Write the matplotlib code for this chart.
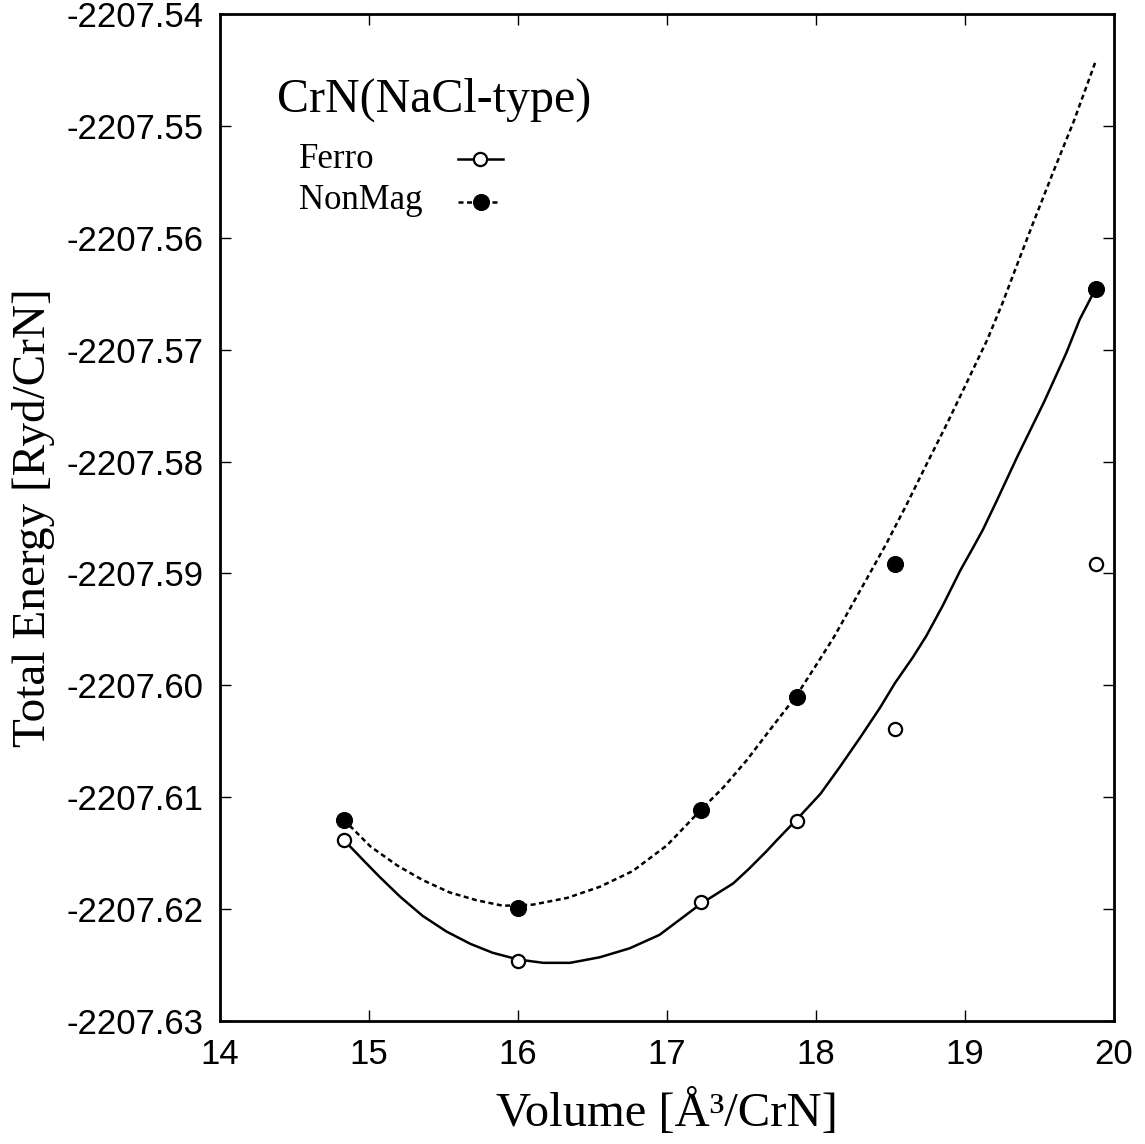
import matplotlib.pyplot as plt
from matplotlib.ticker import FormatStrFormatter

# computed total energies
volume = [14.83, 16.0, 17.23, 17.87, 18.53, 19.88]
e_ferro = [-2207.6138, -2207.6246, -2207.6194, -2207.6121, -2207.6039, -2207.5892]
e_nonmag = [-2207.6120, -2207.6199, -2207.6111, -2207.6010, -2207.5892, -2207.5646]

# fitted curves
fit_ferro_v = [14.83, 14.96, 15.07, 15.21, 15.36, 15.52, 15.68, 15.83, 16.0,
               16.17, 16.35, 16.55, 16.75, 16.95, 17.23, 17.445, 17.55, 17.67,
               17.74, 17.87, 18.03, 18.16, 18.30, 18.43, 18.53, 18.65, 18.74,
               18.85, 18.97, 19.05, 19.12, 19.21, 19.35, 19.53, 19.68, 19.77,
               19.875]
fit_ferro_e = [-2207.6138, -2207.6156, -2207.6171, -2207.6189, -2207.6206,
               -2207.6220, -2207.6231, -2207.6239, -2207.6245, -2207.6248,
               -2207.6248, -2207.6243, -2207.6235, -2207.6223, -2207.6195,
               -2207.6177, -2207.6164, -2207.6148, -2207.6138, -2207.6120,
               -2207.6097, -2207.6073, -2207.6046, -2207.6020, -2207.5998,
               -2207.5975, -2207.5956, -2207.5929, -2207.5897, -2207.5878,
               -2207.5861, -2207.5836, -2207.5796, -2207.5747, -2207.5703,
               -2207.5673, -2207.5646]
fit_nonmag_v = [14.83, 15.01, 15.19, 15.36, 15.54, 15.72, 15.90, 16.10, 16.33,
                16.55, 16.77, 17.00, 17.23, 17.38, 17.535, 17.69, 17.87, 18.02,
                18.12, 18.34, 18.47, 18.61, 18.74, 18.88, 19.01, 19.15, 19.25,
                19.35, 19.46, 19.59, 19.73, 19.875]
fit_nonmag_e = [-2207.6120, -2207.6144, -2207.6161, -2207.6174, -2207.6185,
                -2207.6192, -2207.6197, -2207.6196, -2207.6190, -2207.6180,
                -2207.6166, -2207.6143, -2207.6111, -2207.6091, -2207.6067,
                -2207.6040, -2207.6009, -2207.5978, -2207.5957, -2207.5905,
                -2207.5874, -2207.5838, -2207.5803, -2207.5766, -2207.5730,
                -2207.5691, -2207.5659, -2207.5624, -2207.5586, -2207.5542,
                -2207.5496, -2207.5443]

xticks = [14, 15, 16, 17, 18, 19, 20]
yticks = [-2207.63, -2207.62, -2207.61, -2207.60, -2207.59, -2207.58,
          -2207.57, -2207.56, -2207.55, -2207.54]

serif = "Liberation Serif"
sans = "Liberation Sans"

fig = plt.figure(figsize=(11.45, 11.44), dpi=100)
ax = fig.add_axes([0.1921, 0.1075, 0.7808, 0.8803])

ax.plot(fit_ferro_v, fit_ferro_e, color="black", lw=1.8, zorder=2)
ax.plot(fit_nonmag_v, fit_nonmag_e, color="black", lw=1.8,
        linestyle=(0, (2.0, 1.4)), zorder=2)
ax.plot(volume, e_ferro, "o", ms=9.5, mfc="white", mec="black", mew=1.6,
        ls="none", zorder=3, clip_on=False)
ax.plot(volume, e_nonmag, "o", ms=11.5, mfc="black", mec="black", mew=0.8,
        ls="none", zorder=3, clip_on=False)

ax.set_xlim(14, 20)
ax.set_ylim(-2207.63, -2207.54)
ax.set_xticks(xticks)
ax.set_yticks(yticks)
ax.yaxis.set_major_formatter(FormatStrFormatter("%.2f"))
ax.tick_params(direction="in", length=8, width=1.0, top=True, right=True,
               pad=12, labelsize=25)
for lab in ax.get_xticklabels() + ax.get_yticklabels():
    lab.set_fontfamily(sans)
for sp in ax.spines.values():
    sp.set_linewidth(2.0)

ax.set_xlabel("Volume [Å³/CrN]", fontsize=35, fontfamily=serif, labelpad=13)
ax.set_ylabel("Total Energy [Ryd/CrN]", fontsize=34, fontfamily=serif, labelpad=8)

# title and legend block inside the axes
ax.text(0.0638, 0.9027, "CrN(NaCl-type)", transform=ax.transAxes,
        fontsize=34.5, fontfamily=serif, va="baseline", ha="left")
ax.text(0.0884, 0.847, "Ferro", transform=ax.transAxes,
        fontsize=25, fontfamily=serif, va="baseline", ha="left")
ax.text(0.0884, 0.8064, "NonMag", transform=ax.transAxes,
        fontsize=25, fontfamily=serif, va="baseline", ha="left")
ax.plot([0.2662, 0.3166], [0.856, 0.856], color="black", lw=1.8,
        transform=ax.transAxes)
ax.plot([0.2908], [0.856], "o", ms=9.5, mfc="white", mec="black", mew=1.6,
        transform=ax.transAxes)
ax.plot([0.2662, 0.311], [0.8133, 0.8133], color="black", lw=1.8,
        linestyle=(0, (2.0, 1.4)), transform=ax.transAxes)
ax.plot([0.292], [0.8133], "o", ms=11.5, mfc="black", mec="black", mew=0.8,
        transform=ax.transAxes)

fig.savefig("out.png", dpi=100)
